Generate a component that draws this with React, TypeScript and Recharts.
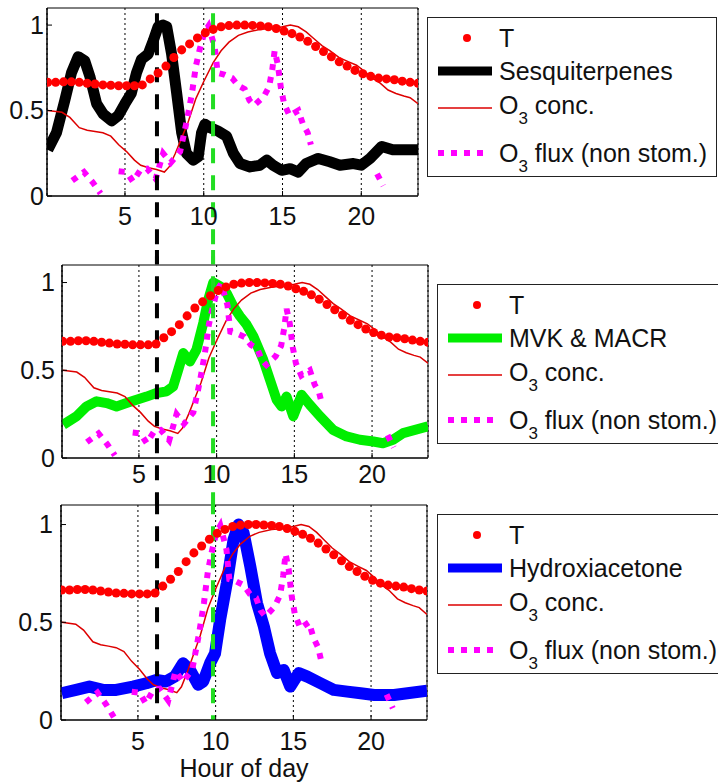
import React from "react";
import {
  ComposedChart,
  Line,
  Scatter,
  XAxis,
  YAxis,
  CartesianGrid,
  ReferenceLine,
  ReferenceArea,
  Legend,
} from "recharts";

const FONT = "'Liberation Sans', Arial, sans-serif";

// normalised temperature
const tHours = [0.1, 0.6, 1.1, 1.6, 2.1, 2.6, 3.1, 3.6, 4.1, 4.6, 5.1, 5.6, 6.1, 6.6, 7.1, 7.6, 8.1, 8.6, 9.1, 9.6, 10.1, 10.6, 11.1, 11.6, 12.1, 12.6, 13.1, 13.6, 14.1, 14.6, 15.1, 15.6, 16.1, 16.6, 17.1, 17.6, 18.1, 18.6, 19.1, 19.6, 20.1, 20.6, 21.1, 21.6, 22.1, 22.6, 23.1, 23.6];
const tValues = [0.665, 0.665, 0.668, 0.668, 0.665, 0.66, 0.655, 0.65, 0.648, 0.645, 0.645, 0.645, 0.65, 0.685, 0.72, 0.76, 0.81, 0.855, 0.89, 0.925, 0.955, 0.975, 0.99, 0.997, 1.0, 1.0, 0.998, 0.995, 0.99, 0.98, 0.965, 0.95, 0.93, 0.905, 0.875, 0.845, 0.815, 0.785, 0.76, 0.735, 0.715, 0.7, 0.69, 0.685, 0.68, 0.672, 0.665, 0.66];

// O3 concentration
const o3Hours = [0.1, 1.0, 1.5, 2.1, 2.6, 3.1, 3.6, 4.1, 4.6, 5.1, 5.6, 6.0, 6.5, 7.0, 7.5, 7.8, 8.2, 8.6, 9.0, 9.5, 10.0, 10.6, 11.1, 11.6, 12.2, 12.8, 13.6, 14.4, 15.0, 15.5, 16.0, 16.5, 17.0, 17.5, 18.0, 18.6, 19.2, 19.7, 20.2, 20.7, 21.2, 21.7, 22.2, 22.7, 23.1, 23.6];
const o3Values = [0.5, 0.49, 0.46, 0.4, 0.385, 0.378, 0.37, 0.35, 0.3, 0.26, 0.21, 0.18, 0.165, 0.155, 0.14, 0.17, 0.25, 0.34, 0.43, 0.57, 0.67, 0.78, 0.85, 0.9, 0.94, 0.96, 0.975, 0.98, 0.99, 1.0, 0.99, 0.96, 0.92, 0.88, 0.85, 0.81, 0.785, 0.765, 0.73, 0.69, 0.66, 0.62, 0.6, 0.585, 0.575, 0.54];

// O3 flux (non stomatal), null = no data
const fluxHours = [1.65, 2.4, 2.95, 3.45, 4.0, 4.6, 5.1, 5.5, 6.0, 6.4, 6.95, 7.42, 7.9, 8.5, 8.95, 9.25, 9.5, 9.75, 10.05, 10.3, 10.7, 10.88, 11.3, 11.8, 12.2, 12.6, 12.9, 13.2, 13.8, 14.15, 14.35, 14.5, 14.7, 14.9, 15.1, 15.45, 16.0, 16.3, 16.6, 16.8, 18.0, 21.0, 21.4];
const fluxValues = [0.09, 0.14, 0.08, 0.015, null, 0.145, 0.14, 0.085, 0.155, 0.16, 0.1, 0.25, 0.195, 0.26, 0.45, 0.6, 0.76, 0.86, 0.96, 0.995, 0.87, 0.72, 0.71, 0.69, 0.645, 0.625, 0.56, 0.53, 0.58, 0.64, 0.74, 0.85, 0.77, 0.63, 0.54, 0.47, 0.5, 0.42, 0.37, 0.3, null, 0.13, 0.06];

const sesqHours = [0.1, 0.65, 1.18, 1.6, 2.03, 2.45, 2.77, 3.2, 3.62, 4.15, 4.57, 5.0, 5.4, 5.73, 6.05, 6.47, 6.8, 7.1, 7.43, 7.65, 7.96, 8.27, 8.6, 8.9, 9.33, 9.65, 9.86, 10.07, 10.4, 10.9, 11.45, 11.88, 12.3, 12.94, 13.57, 14.0, 14.4, 14.95, 15.48, 16.0, 16.5, 17.27, 18.0, 18.65, 19.5, 20.0, 20.56, 21.3, 22.0, 22.6, 23.6];
const sesqValues = [0.27, 0.37, 0.56, 0.72, 0.815, 0.79, 0.7, 0.54, 0.48, 0.44, 0.47, 0.54, 0.6, 0.72, 0.8, 0.83, 0.91, 0.99, 1.0, 0.99, 0.83, 0.61, 0.37, 0.25, 0.21, 0.23, 0.37, 0.42, 0.4, 0.38, 0.35, 0.25, 0.19, 0.17, 0.18, 0.21, 0.18, 0.15, 0.16, 0.14, 0.19, 0.22, 0.2, 0.18, 0.19, 0.18, 0.22, 0.29, 0.27, 0.27, 0.27];

const mvkHours = [0.13, 0.99, 1.63, 2.28, 2.92, 3.56, 4.2, 4.85, 5.49, 6.13, 6.78, 7.2, 7.53, 7.85, 8.28, 8.7, 9.14, 9.46, 9.78, 10.21, 10.64, 11.07, 11.5, 11.93, 12.36, 13.0, 13.43, 13.86, 14.18, 14.5, 14.93, 15.47, 16.0, 16.65, 17.5, 18.36, 19.22, 20.08, 20.7, 21.35, 22.0, 23.6];
const mvkValues = [0.19, 0.238, 0.294, 0.323, 0.313, 0.294, 0.313, 0.332, 0.35, 0.37, 0.38, 0.408, 0.503, 0.598, 0.55, 0.617, 0.77, 0.903, 1.0, 0.98, 0.94, 0.865, 0.808, 0.76, 0.694, 0.56, 0.446, 0.332, 0.294, 0.35, 0.238, 0.36, 0.303, 0.238, 0.16, 0.123, 0.104, 0.094, 0.084, 0.104, 0.142, 0.18];

const hydroxHours = [0.1, 1.02, 1.88, 2.74, 3.6, 4.68, 5.54, 6.19, 6.8, 7.37, 7.9, 8.35, 8.88, 9.2, 9.64, 9.96, 10.29, 10.72, 11.15, 11.47, 11.8, 12.23, 12.66, 13.1, 13.5, 13.95, 14.38, 14.8, 15.35, 15.9, 16.75, 17.6, 18.47, 19.33, 20.2, 21.48, 23.6];
const hydroxValues = [0.137, 0.154, 0.171, 0.154, 0.154, 0.171, 0.188, 0.205, 0.197, 0.222, 0.29, 0.256, 0.18, 0.197, 0.29, 0.34, 0.513, 0.701, 0.923, 1.0, 0.957, 0.786, 0.598, 0.479, 0.342, 0.24, 0.256, 0.171, 0.24, 0.222, 0.188, 0.154, 0.145, 0.137, 0.128, 0.128, 0.15];

const xTicks = [5, 10, 15, 20];
const yTicks = [0, 0.5, 1];
const X_DOMAIN: [number, number] = [0.05, 23.6];
const Y_DOMAIN: [number, number] = [0, 1.1];

const toPoints = (hours: number[], values: (number | null)[]) =>
  hours.map((h, i) => ({ h, v: values[i] }));

const tData = toPoints(tHours, tValues);
const o3Data = toPoints(o3Hours, o3Values);
const fluxData = toPoints(fluxHours, fluxValues);

const ROWS = [20, 53, 90, 135];

const Sub3 = () => (
  <span style={{ fontSize: 17, position: "relative", top: 10 }}>3</span>
);

const LegendBox = ({ width, height, name, color, lineWidth }: any) => (
  <div
    style={{
      position: "relative",
      width,
      height,
      boxSizing: "border-box",
      border: "1px solid #222",
      background: "#fff",
      fontFamily: FONT,
      fontSize: 25,
      color: "#111",
    }}
  >
    <svg width={70} height={height} style={{ position: "absolute", left: 0, top: 0 }}>
      <circle cx={39} cy={ROWS[0]} r={4} fill="#ff0000" />
      <line x1={10} x2={64} y1={ROWS[1]} y2={ROWS[1]} stroke={color} strokeWidth={lineWidth} />
      <line x1={10} x2={64} y1={ROWS[2]} y2={ROWS[2]} stroke="#dd0000" strokeWidth={1.5} />
      <line x1={10} x2={62} y1={ROWS[3]} y2={ROWS[3]} stroke="#ff00ff" strokeWidth={6} strokeDasharray="6 7" />
    </svg>
    <span style={{ position: "absolute", left: 71, top: ROWS[0] - 12, lineHeight: "25px", whiteSpace: "nowrap" }}>T</span>
    <span style={{ position: "absolute", left: 71, top: ROWS[1] - 12, lineHeight: "25px", whiteSpace: "nowrap" }}>{name}</span>
    <span style={{ position: "absolute", left: 71, top: ROWS[2] - 15, lineHeight: "25px", whiteSpace: "nowrap" }}>
      O<Sub3 /> conc.
    </span>
    <span style={{ position: "absolute", left: 71, top: ROWS[3] - 12, lineHeight: "25px", whiteSpace: "nowrap" }}>
      O<Sub3 /> flux (non stom.)
    </span>
  </div>
);

const Panel = (p: any) => {
  const data = toPoints(p.hours, p.values);
  const tickStyle = { fontSize: 25, fill: "#111", fontFamily: FONT };
  return (
    <div style={{ position: "absolute", left: 0, top: p.top }}>
      <ComposedChart
        width={718}
        height={p.height}
        margin={{ top: p.marginTop, right: 718 - p.right, bottom: 0, left: 0 }}
      >
        <CartesianGrid horizontal={false} stroke="#000" strokeDasharray="2 3" />
        <XAxis
          type="number"
          dataKey="h"
          domain={X_DOMAIN}
          ticks={xTicks}
          allowDataOverflow
          height={p.xAxisHeight}
          tick={tickStyle}
          tickSize={-5}
          tickMargin={p.xGap + 5}
          stroke="#000"
          label={
            p.xLabel
              ? { value: p.xLabel, position: "insideBottom", offset: 6, style: { ...tickStyle } }
              : undefined
          }
        />
        <YAxis
          type="number"
          dataKey="v"
          domain={Y_DOMAIN}
          ticks={yTicks}
          allowDataOverflow
          width={p.left}
          tick={tickStyle}
          tickSize={-5}
          tickMargin={p.yGap + 5}
          stroke="#000"
        />
        <Scatter data={tData} dataKey="v" fill="#ff0000" isAnimationActive={false} />
        <Line
          data={data}
          dataKey="v"
          type="linear"
          stroke={p.color}
          strokeWidth={p.lineWidth}
          strokeLinejoin="round"
          dot={false}
          isAnimationActive={false}
        />
        <Line
          data={o3Data}
          dataKey="v"
          type="linear"
          stroke="#dd0000"
          strokeWidth={1.5}
          dot={false}
          isAnimationActive={false}
        />
        <Line
          data={fluxData}
          dataKey="v"
          type="linear"
          stroke="#ff00ff"
          strokeWidth={6}
          strokeDasharray="6 7"
          connectNulls={false}
          dot={false}
          isAnimationActive={false}
        />
        <ReferenceArea
          x1={X_DOMAIN[0]}
          x2={X_DOMAIN[1]}
          y1={Y_DOMAIN[0]}
          y2={Y_DOMAIN[1]}
          fill="none"
          stroke="#000"
          strokeWidth={1}
        />
        <ReferenceLine
          segment={[{ x: p.blackAt, y: p.lineTop }, { x: p.blackAt, y: p.lineBottom }]}
          stroke="#000"
          strokeWidth={4}
          strokeDasharray="15 12"
          ifOverflow="visible"
        />
        <ReferenceLine
          segment={[{ x: p.greenAt, y: p.lineTop }, { x: p.greenAt, y: p.lineBottom }]}
          stroke="#22dd22"
          strokeWidth={4}
          strokeDasharray="15 12"
          ifOverflow="visible"
        />
        <Legend
          layout="horizontal"
          align="center"
          verticalAlign="middle"
          wrapperStyle={{ left: p.legendLeft, top: p.legendTop, width: p.legendWidth, height: 160 }}
          content={() => (
            <LegendBox
              width={p.legendWidth}
              height={160}
              name={p.name}
              color={p.color}
              lineWidth={9}
            />
          )}
        />
      </ComposedChart>
    </div>
  );
};

export default function App() {
  return (
    <div
      style={{
        position: "absolute",
        left: 0,
        top: 0,
        width: 718,
        height: 783,
        overflow: "hidden",
        background: "#fff",
      }}
    >
      <Panel
        top={0}
        height={265}
        marginTop={8}
        xAxisHeight={69}
        left={47}
        right={418}
        yGap={3}
        xGap={11}
        name="Sesquiterpenes"
        color="#000"
        lineWidth={11}
        hours={sesqHours}
        values={sesqValues}
        blackAt={7.03}
        greenAt={10.59}
        lineTop={1.07}
        lineBottom={-0.4}
        legendLeft={427}
        legendTop={17}
        legendWidth={290}
      />
      <Panel
        top={250}
        height={255}
        marginTop={15}
        xAxisHeight={47}
        left={62}
        right={428}
        yGap={7}
        xGap={7}
        name="MVK & MACR"
        color="#00ee00"
        lineWidth={10}
        hours={mvkHours}
        values={mvkValues}
        blackAt={6.16}
        greenAt={9.77}
        lineTop={1.19}
        lineBottom={-0.27}
        legendLeft={437}
        legendTop={34}
        legendWidth={290}
      />
      <Panel
        top={500}
        height={283}
        marginTop={5}
        xAxisHeight={63}
        left={61}
        right={427}
        yGap={8}
        xGap={12}
        name="Hydroxiacetone"
        color="#0000ff"
        lineWidth={12}
        hours={hydroxHours}
        values={hydroxValues}
        blackAt={6.23}
        greenAt={9.83}
        lineTop={1.13}
        lineBottom={0}
        legendLeft={437}
        legendTop={14}
        legendWidth={290}
        xLabel="Hour of day"
      />
    </div>
  );
}
